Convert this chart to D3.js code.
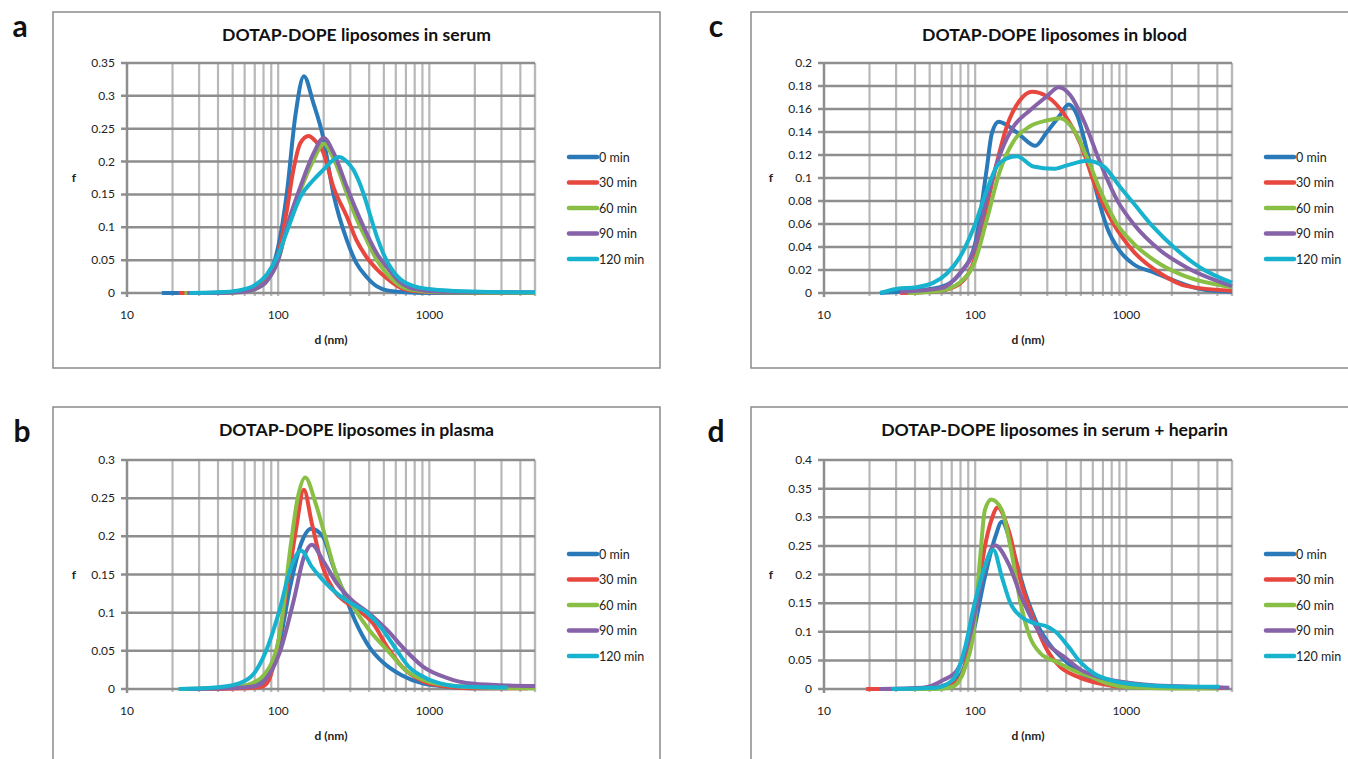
<!DOCTYPE html>
<html><head><meta charset="utf-8">
<script src="https://cdn.jsdelivr.net/npm/d3@7"></script>
<style>
body{margin:0;background:#fff;}
svg{display:block;}
text{font-family:Lato,"Open Sans",sans-serif;}
</style></head>
<body>
<svg id="chart" width="1348" height="759"></svg>
<script>
// ---------- data ----------
const seriesNames = ["0 min","30 min","60 min","90 min","120 min"];
const seriesColors = ["#2a7ab9","#e8473f","#89bf44","#8662a8","#17b2cd"];
const panelLetters = ["a","b","c","d"];
const panelTitles = ["DOTAP-DOPE liposomes in serum","DOTAP-DOPE liposomes in plasma","DOTAP-DOPE liposomes in blood","DOTAP-DOPE liposomes in serum + heparin"];
const xTicks = [10,100,1000];
const yTicksA = [0,0.05,0.1,0.15,0.2,0.25,0.3,0.35];
const yTicksB = [0,0.05,0.1,0.15,0.2,0.25,0.3];
const yTicksC = [0,0.02,0.04,0.06,0.08,0.1,0.12,0.14,0.16,0.18,0.2];
const yTicksD = [0,0.05,0.1,0.15,0.2,0.25,0.3,0.35,0.4];

// panel a: serum  [d (nm), f]
const serum0 = [[17,0],[30,0],[50,0.001],[65,0.004],[75,0.01],[84,0.021],[92,0.04],[100,0.07],[114,0.151],[130,0.27],[148,0.33],[171,0.289],[198,0.238],[232,0.151],[285,0.08],[330,0.045],[386,0.024],[450,0.01],[525,0.004],[700,0.001],[1000,0],[5000,0]];
const serum30 = [[22,0],[40,0],[55,0.002],[70,0.007],[84,0.02],[100,0.058],[114,0.125],[126,0.187],[140,0.228],[159,0.239],[175,0.232],[198,0.215],[232,0.161],[285,0.116],[330,0.08],[386,0.054],[450,0.036],[525,0.022],[643,0.008],[800,0.003],[1200,0.001],[5000,0]];
const serum60 = [[24,0],[40,0],[55,0.001],[70,0.006],[84,0.018],[100,0.05],[114,0.1],[140,0.156],[171,0.202],[200,0.227],[232,0.205],[285,0.151],[330,0.113],[386,0.08],[450,0.05],[525,0.029],[643,0.011],[800,0.004],[1200,0.001],[5000,0]];
const serum90 = [[25,0],[40,0],[55,0.001],[70,0.006],[84,0.018],[100,0.05],[114,0.1],[140,0.161],[171,0.212],[200,0.236],[232,0.214],[285,0.161],[330,0.125],[386,0.09],[450,0.06],[525,0.039],[643,0.016],[800,0.006],[1200,0.002],[5000,0.001]];
const serum120 = [[26,0],[40,0.001],[55,0.004],[70,0.012],[84,0.028],[100,0.058],[114,0.093],[140,0.146],[171,0.172],[198,0.187],[225,0.2],[251,0.207],[285,0.2],[315,0.187],[367,0.151],[410,0.115],[451,0.085],[520,0.05],[581,0.032],[650,0.02],[800,0.01],[1000,0.006],[1500,0.003],[2500,0.0015],[5000,0.001]];

// panel b: plasma
const plasma0 = [[22,0],[40,0.001],[60,0.004],[72,0.008],[82,0.016],[102,0.06],[120,0.134],[142,0.191],[165,0.21],[197,0.2],[232,0.16],[273,0.125],[322,0.09],[401,0.055],[499,0.034],[656,0.018],[912,0.007],[1336,0.003],[2000,0.001],[3300,0.001]];
const plasma30 = [[29,0],[60,0.001],[78,0.003],[87,0.012],[97,0.047],[114,0.13],[131,0.208],[148,0.261],[167,0.217],[197,0.16],[232,0.13],[289,0.112],[340,0.103],[424,0.086],[527,0.055],[693,0.025],[912,0.01],[1336,0.003],[2000,0.001],[4500,0.001]];
const plasma60 = [[22,0],[50,0.002],[66,0.007],[82,0.02],[102,0.07],[120,0.182],[134,0.248],[151,0.277],[177,0.243],[208,0.195],[245,0.147],[305,0.112],[401,0.077],[527,0.051],[693,0.025],[912,0.012],[1336,0.005],[2307,0.002],[5000,0.001]];
const plasma90 = [[25,0],[59,0.002],[74,0.005],[82,0.012],[102,0.047],[127,0.117],[148,0.173],[167,0.189],[197,0.169],[245,0.138],[305,0.117],[401,0.099],[527,0.077],[693,0.051],[912,0.029],[1336,0.014],[1758,0.008],[3034,0.005],[5000,0.004]];
const plasma120 = [[22,0],[38,0.002],[50,0.005],[66,0.016],[82,0.047],[102,0.103],[120,0.156],[142,0.181],[167,0.16],[197,0.143],[245,0.125],[305,0.112],[380,0.101],[473,0.082],[589,0.055],[733,0.029],[912,0.016],[1336,0.005],[1758,0.003],[3296,0.002]];

// panel c: blood
const blood0 = [[23.5,0],[31.8,0.001],[58.6,0.005],[79.4,0.017],[100,0.043],[119,0.107],[129,0.139],[143,0.149],[162,0.146],[199,0.137],[250,0.128],[298,0.14],[366,0.155],[415,0.164],[471,0.155],[549,0.124],[640,0.086],[745,0.057],[912,0.036],[1117,0.025],[1517,0.018],[2056,0.011],[3092,0.0035],[5000,0.001]];
const blood30 = [[32,0],[58.6,0.002],[79,0.008],[100,0.031],[119,0.075],[139,0.113],[162,0.145],[199,0.168],[237,0.175],[298,0.171],[385,0.156],[496,0.13],[640,0.089],[824,0.06],[1117,0.036],[1679,0.017],[2524,0.006],[5000,0.002]];
const blood60 = [[36,0],[58.6,0.002],[79,0.009],[100,0.028],[119,0.063],[146.6,0.107],[179.6,0.132],[231,0.145],[298,0.15],[366,0.152],[448,0.142],[549,0.118],[673,0.089],[867,0.06],[1117,0.043],[1679,0.025],[2524,0.014],[5000,0.005]];
const blood90 = [[32,0.001],[58.6,0.004],[79,0.017],[100,0.04],[119,0.081],[146.6,0.121],[180,0.145],[231,0.159],[298,0.171],[357,0.179],[426,0.172],[522,0.15],[673,0.113],[867,0.081],[1117,0.06],[1679,0.037],[2524,0.022],[5000,0.006]];
const blood120 = [[23.5,0],[30,0.0035],[41,0.005],[53,0.009],[65,0.017],[79,0.031],[100,0.06],[119,0.089],[139,0.11],[162,0.117],[189,0.119],[243,0.11],[330,0.108],[405,0.111],[549,0.115],[708,0.11],[912,0.092],[1117,0.078],[1517,0.057],[2056,0.04],[3092,0.022],[5000,0.009]];

// panel d: serum + heparin
const heparin0 = [[28,0],[50,0.001],[65,0.008],[81,0.027],[98,0.103],[116,0.196],[136,0.266],[150,0.292],[177,0.243],[215,0.167],[262,0.109],[319,0.074],[388,0.051],[504,0.027],[698,0.013],[1032,0.005],[2000,0.002],[4000,0.002]];
const heparin30 = [[19,0],[40,0],[60,0.003],[70,0.008],[81,0.022],[98,0.115],[116,0.249],[128,0.295],[141,0.317],[166,0.278],[202,0.184],[245,0.12],[299,0.068],[363,0.039],[472,0.022],[654,0.01],[968,0.004],[2000,0.002],[4345,0.002]];
const heparin60 = [[28,0],[55,0],[71,0.004],[86,0.039],[98,0.103],[108,0.231],[116,0.313],[128,0.331],[150,0.313],[171,0.249],[202,0.144],[230,0.091],[271,0.062],[340,0.048],[442,0.033],[574,0.022],[745,0.01],[1032,0.003],[2000,0.001],[4000,0.001]];
const heparin90 = [[23.4,0],[45,0.002],[62,0.016],[76,0.033],[92,0.091],[112,0.196],[135,0.251],[166,0.219],[202,0.161],[245,0.115],[299,0.08],[388,0.056],[504,0.033],[698,0.019],[1032,0.011],[1432,0.007],[2754,0.004],[4800,0.002]];
const heparin120 = [[28,0],[55,0.002],[71,0.016],[86,0.074],[98,0.144],[112,0.202],[132,0.243],[150,0.196],[171,0.15],[202,0.126],[245,0.115],[299,0.109],[340,0.1],[414,0.074],[504,0.045],[612,0.027],[849,0.013],[1256,0.007],[2415,0.004],[4130,0.004]];

// ---------- layout ----------
const panels = [
  {letter:panelLetters[0], title:panelTitles[0], ticks:yTicksA, series:[serum0,serum30,serum60,serum90,serum120],
   frame:[53,12,607,356], plot:[127,535,63,293], lx:[20,37]},
  {letter:panelLetters[1], title:panelTitles[1], ticks:yTicksB, series:[plasma0,plasma30,plasma60,plasma90,plasma120],
   frame:[53,407,607,400], plot:[127,535,460,689], lx:[22,442]},
  {letter:panelLetters[2], title:panelTitles[2], ticks:yTicksC, series:[blood0,blood30,blood60,blood90,blood120],
   frame:[751,12,607,356], plot:[824,1232,63,293], lx:[716,37]},
  {letter:panelLetters[3], title:panelTitles[3], ticks:yTicksD, series:[heparin0,heparin30,heparin60,heparin90,heparin120],
   frame:[751,407,607,400], plot:[824,1232,460,689], lx:[716,442]}
];

const svg = d3.select("#chart");
const minorX = [];
[10,100,1000].forEach(dec => { for (let k=1;k<=9;k++){ const v=dec*k; if (v<=5000) minorX.push(v);} });
minorX.push(5000);

panels.forEach(p => {
  const [fx,fy,fw,fh] = p.frame;
  const [L,R,T,B] = p.plot;
  const g = svg.append("g");
  g.append("rect").attr("x",fx).attr("y",fy).attr("width",fw).attr("height",fh)
    .attr("fill","#fff").attr("stroke","#8a8a8a").attr("stroke-width",1.5);
  svg.append("text").attr("x",p.lx[0]).attr("y",p.lx[1]).attr("text-anchor","middle")
    .attr("font-family","Liberation Sans, Arial, sans-serif").attr("font-weight","bold")
    .attr("font-size",30).attr("fill","#111").text(p.letter);

  const x = d3.scaleLog().domain([10,5000]).range([L,R]);
  const yMax = p.ticks[p.ticks.length-1];
  const y = d3.scaleLinear().domain([0,yMax]).range([B,T]);

  g.selectAll("line.vg").data(minorX.filter(v=>v>10)).enter().append("line")
    .attr("x1",d=>x(d)).attr("x2",d=>x(d)).attr("y1",T).attr("y2",B+3)
    .attr("stroke","#b8b8b8").attr("stroke-width",2.2);
  g.selectAll("line.hg").data(p.ticks).enter().append("line")
    .attr("x1",L-6).attr("x2",R).attr("y1",d=>y(d)).attr("y2",d=>y(d))
    .attr("stroke","#8e8e8e").attr("stroke-width",2.5);
  g.append("line").attr("x1",L).attr("x2",L).attr("y1",T).attr("y2",B+4)
    .attr("stroke","#8e8e8e").attr("stroke-width",2.5);

  g.selectAll("text.yt").data(p.ticks).enter().append("text")
    .attr("x",L-12).attr("y",d=>y(d)+4).attr("text-anchor","end")
    .attr("font-size",12).attr("fill","#222")
    .text(d=>String(Math.round(d*100)/100));
  g.selectAll("text.xt").data(xTicks).enter().append("text")
    .attr("x",d=>x(d)).attr("y",B+26).attr("text-anchor","middle")
    .attr("font-size",12).attr("fill","#222").text(d=>d);

  g.append("text").attr("x",(L+R)/2).attr("y",B+51).attr("text-anchor","middle")
    .attr("font-size",12).attr("font-weight","bold").attr("fill","#222").text("d (nm)");
  g.append("text").attr("x",L-53).attr("y",(T+B)/2+4).attr("text-anchor","middle")
    .attr("font-size",12).attr("font-weight","bold").attr("fill","#222").text("f");

  g.append("text").attr("x",fx+fw/2).attr("y",fy+29).attr("text-anchor","middle")
    .attr("font-size",17.6).attr("font-weight","bold").attr("fill","#111").text(p.title);

  const line = d3.line().x(d=>x(d[0])).y(d=>y(d[1])).curve(d3.curveMonotoneX);
  p.series.forEach((s,i) => {
    g.append("path").datum(s).attr("d",line).attr("fill","none")
      .attr("stroke",seriesColors[i]).attr("stroke-width",4)
      .attr("stroke-linejoin","round").attr("stroke-linecap","butt");
  });

  const ly0 = T + 94;
  seriesNames.forEach((nm,i) => {
    const yy = ly0 + i*25.5;
    g.append("line").attr("x1",R+34).attr("x2",R+62).attr("y1",yy).attr("y2",yy)
      .attr("stroke",seriesColors[i]).attr("stroke-width",4.5).attr("stroke-linecap","round");
    g.append("text").attr("x",R+64).attr("y",yy+4.5).attr("font-size",12.5).attr("fill","#222").text(nm);
  });
});
</script>
</body></html>
